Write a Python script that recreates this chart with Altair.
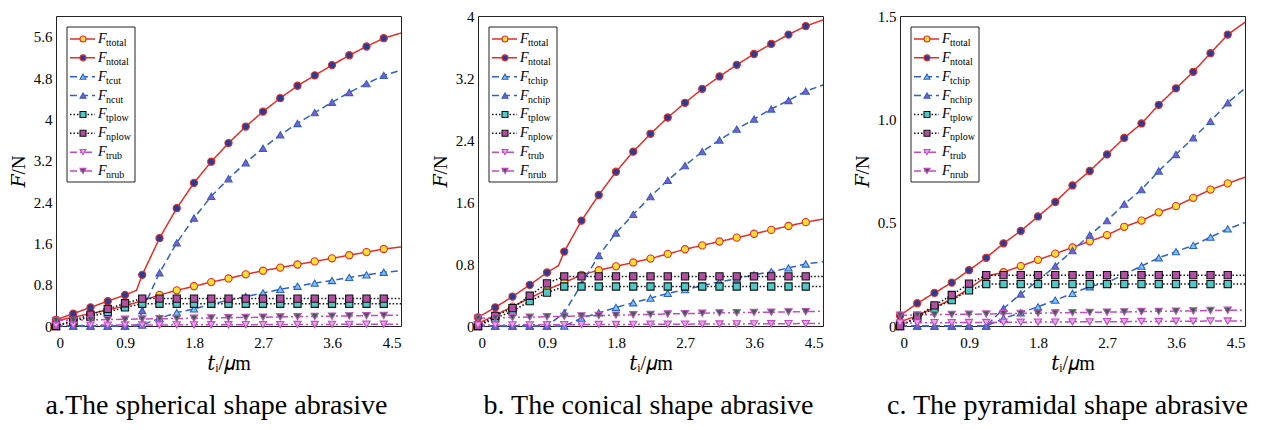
import altair as alt
import pandas as pd

# ---------------- data ----------------
X_MARK = [0.0, 0.225, 0.45, 0.675, 0.9, 1.125, 1.35, 1.575, 1.8, 2.025,
          2.25, 2.475, 2.7, 2.925, 3.15, 3.375, 3.6, 3.825, 4.05, 4.275]
X_END = 4.5
SERIES = ["ttotal", "ntotal", "tcut", "ncut", "tplow", "nplow", "trub", "nrub"]

# a. spherical
A_TTOTAL = [0.10, 0.17, 0.24, 0.31, 0.39, 0.49, 0.60, 0.69, 0.77, 0.85, 0.92, 1.00, 1.07, 1.13, 1.19, 1.25, 1.31, 1.37, 1.43, 1.49]
A_NTOTAL = [0.12, 0.24, 0.36, 0.48, 0.60, 0.99, 1.70, 2.28, 2.77, 3.18, 3.54, 3.86, 4.15, 4.41, 4.65, 4.85, 5.05, 5.24, 5.41, 5.57]
A_TCUT = [0, 0, 0, 0, 0, 0.02, 0.15, 0.26, 0.33, 0.42, 0.50, 0.57, 0.64, 0.71, 0.77, 0.83, 0.88, 0.94, 0.99, 1.04]
A_NCUT = [0, 0, 0, 0, 0, 0.30, 1.03, 1.61, 2.09, 2.51, 2.85, 3.16, 3.44, 3.70, 3.92, 4.13, 4.33, 4.52, 4.69, 4.85]
A_TPLOW = [0, 0.09, 0.18, 0.27, 0.36, 0.43, 0.43, 0.43, 0.43, 0.43, 0.43, 0.43, 0.43, 0.43, 0.43, 0.43, 0.43, 0.43, 0.43, 0.43]
A_NPLOW = [0, 0.11, 0.22, 0.33, 0.44, 0.53, 0.53, 0.53, 0.53, 0.53, 0.53, 0.53, 0.53, 0.53, 0.53, 0.53, 0.53, 0.53, 0.53, 0.53]
A_TRUB = [0.015, 0.016, 0.017, 0.018, 0.019, 0.020, 0.021, 0.022, 0.023, 0.024, 0.025, 0.026, 0.027, 0.028, 0.029, 0.030, 0.031, 0.032, 0.033, 0.034]
A_NRUB = [0.11, 0.115, 0.12, 0.125, 0.13, 0.135, 0.14, 0.145, 0.15, 0.155, 0.16, 0.165, 0.17, 0.175, 0.18, 0.185, 0.19, 0.195, 0.20, 0.205]
A_END = [1.53, 5.67, 1.07, 4.95, 0.43, 0.53, 0.035, 0.21]
A_KINK_KEY = ["ntotal", "ncut"]
A_KINK_X = [1.05, 1.06]
A_KINK_Y = [0.69, 0.0]

# b. conical
B_TTOTAL = [0.03, 0.14, 0.25, 0.36, 0.47, 0.56, 0.66, 0.72, 0.77, 0.82, 0.87, 0.93, 0.99, 1.04, 1.09, 1.14, 1.19, 1.24, 1.29, 1.34]
B_NTOTAL = [0.11, 0.24, 0.38, 0.53, 0.69, 0.96, 1.36, 1.69, 1.99, 2.25, 2.48, 2.69, 2.88, 3.06, 3.22, 3.37, 3.51, 3.64, 3.76, 3.87]
B_TCHIP = [0, 0, 0, 0, 0, 0.0, 0.10, 0.17, 0.24, 0.30, 0.36, 0.42, 0.47, 0.52, 0.57, 0.61, 0.66, 0.70, 0.75, 0.80]
B_NCHIP = [0, 0, 0, 0, 0, 0.17, 0.54, 0.91, 1.20, 1.44, 1.67, 1.88, 2.07, 2.25, 2.40, 2.54, 2.67, 2.80, 2.91, 3.03]
B_TPLOW = [0, 0.10, 0.19, 0.32, 0.43, 0.51, 0.51, 0.51, 0.51, 0.51, 0.51, 0.51, 0.51, 0.51, 0.51, 0.51, 0.51, 0.51, 0.51, 0.51]
B_NPLOW = [0, 0.13, 0.23, 0.39, 0.55, 0.64, 0.64, 0.64, 0.64, 0.64, 0.64, 0.64, 0.64, 0.64, 0.64, 0.64, 0.64, 0.64, 0.64, 0.64]
B_TRUB = [0.012, 0.013, 0.014, 0.015, 0.016, 0.017, 0.018, 0.019, 0.020, 0.021, 0.022, 0.023, 0.024, 0.025, 0.026, 0.027, 0.028, 0.029, 0.030, 0.031]
B_NRUB = [0.10, 0.105, 0.11, 0.115, 0.12, 0.125, 0.13, 0.135, 0.14, 0.145, 0.15, 0.155, 0.16, 0.165, 0.17, 0.172, 0.175, 0.178, 0.182, 0.186]
B_END = [1.38, 3.95, 0.83, 3.11, 0.51, 0.64, 0.032, 0.19]
B_KINK_KEY = ["ntotal"]
B_KINK_X = [1.05]
B_KINK_Y = [0.78]

# c. pyramidal
C_TTOTAL = [0.02, 0.05, 0.09, 0.13, 0.18, 0.24, 0.26, 0.29, 0.32, 0.35, 0.38, 0.41, 0.44, 0.48, 0.51, 0.55, 0.58, 0.62, 0.66, 0.69]
C_NTOTAL = [0.05, 0.11, 0.16, 0.21, 0.27, 0.33, 0.40, 0.46, 0.53, 0.60, 0.68, 0.75, 0.83, 0.91, 0.98, 1.07, 1.15, 1.23, 1.32, 1.41]
C_TCHIP = [0, 0, 0, 0, 0, 0.0, 0.037, 0.064, 0.093, 0.125, 0.158, 0.19, 0.21, 0.25, 0.29, 0.33, 0.36, 0.39, 0.43, 0.47]
C_NCHIP = [0, 0, 0, 0, 0, 0.0, 0.085, 0.155, 0.22, 0.29, 0.365, 0.44, 0.51, 0.59, 0.66, 0.75, 0.83, 0.91, 0.99, 1.08]
C_TPLOW = [0, 0.04, 0.087, 0.125, 0.172, 0.203, 0.203, 0.203, 0.203, 0.203, 0.203, 0.203, 0.203, 0.203, 0.203, 0.203, 0.203, 0.203, 0.203, 0.203]
C_NPLOW = [0, 0.047, 0.10, 0.15, 0.205, 0.246, 0.246, 0.246, 0.246, 0.246, 0.246, 0.246, 0.246, 0.246, 0.246, 0.246, 0.246, 0.246, 0.246, 0.246]
C_TRUB = [0.015, 0.015, 0.016, 0.016, 0.017, 0.017, 0.018, 0.018, 0.019, 0.019, 0.020, 0.020, 0.021, 0.021, 0.022, 0.022, 0.023, 0.023, 0.024, 0.024]
C_NRUB = [0.052, 0.053, 0.055, 0.056, 0.057, 0.058, 0.060, 0.061, 0.062, 0.063, 0.065, 0.066, 0.067, 0.068, 0.070, 0.071, 0.072, 0.073, 0.075, 0.076]
C_END = [0.72, 1.47, 0.50, 1.15, 0.203, 0.246, 0.025, 0.077]
C_KINK_KEY = []
C_KINK_X = []
C_KINK_Y = []

SUBS_A = ["ttotal", "ntotal", "tcut", "ncut", "tplow", "nplow", "trub", "nrub"]
SUBS_BC = ["ttotal", "ntotal", "tchip", "nchip", "tplow", "nplow", "trub", "nrub"]

CAPTIONS = ["a.The spherical shape abrasive",
            "b. The conical shape abrasive",
            "c. The pyramidal shape abrasive"]
Y_MAX = [6.0, 4.0, 1.5]
Y_TICKS = [[0, 0.8, 1.6, 2.4, 3.2, 4.0, 4.8, 5.6],
           [0, 0.8, 1.6, 2.4, 3.2, 4.0],
           [0, 0.5, 1.0, 1.5]]
X_TICKS = [0, 0.9, 1.8, 2.7, 3.6, 4.5]

# ---------------- styling ----------------
RED = "#e52d27"
BLUE = "#2f60c8"
BLACK = "#111111"
MAG = "#c54ac5"
STROKES = [RED, RED, BLUE, BLUE, BLACK, BLACK, MAG, MAG]
FILLS = ["#ffe033", "#2b3c96", "#78c6f0", "#8a5ac6", "#50c8c8", "#b24ea4", "#e4a8e4", "#2e6b3c"]
SHAPES = ["circle", "circle", "triangle-up", "triangle-up", "square", "square",
          "triangle-down", "triangle-down"]
SIZES = [52, 52, 55, 55, 64, 64, 55, 55]
DASHES = [[1, 0], [1, 0], [7, 4], [7, 4], [1.5, 2], [1.5, 2], [7, 3, 2, 3], [7, 3, 2, 3]]

stroke_scale = alt.Scale(domain=SERIES, range=STROKES)
fill_scale = alt.Scale(domain=SERIES, range=FILLS)
shape_scale = alt.Scale(domain=SERIES, range=SHAPES)
size_scale = alt.Scale(domain=SERIES, range=SIZES)
dash_scale = alt.Scale(domain=SERIES, range=DASHES)

SERIF = "Liberation Serif"
TFONT = "Liberation Serif, DejaVu Serif, serif"


def build_df(series_vals, ends, kk, kx, ky):
    rows = []
    for key, vals, end in zip(SERIES, series_vals, ends):
        for x, y in zip(X_MARK, vals):
            rows.append({"key": key, "x": x, "y": y, "m": 1})
        rows.append({"key": key, "x": X_END, "y": end, "m": 0})
    for key, x, y in zip(kk, kx, ky):
        rows.append({"key": key, "x": x, "y": y, "m": 0})
    return pd.DataFrame(rows)


PANELS = [
    build_df([A_TTOTAL, A_NTOTAL, A_TCUT, A_NCUT, A_TPLOW, A_NPLOW, A_TRUB, A_NRUB],
             A_END, A_KINK_KEY, A_KINK_X, A_KINK_Y),
    build_df([B_TTOTAL, B_NTOTAL, B_TCHIP, B_NCHIP, B_TPLOW, B_NPLOW, B_TRUB, B_NRUB],
             B_END, B_KINK_KEY, B_KINK_X, B_KINK_Y),
    build_df([C_TTOTAL, C_NTOTAL, C_TCHIP, C_NCHIP, C_TPLOW, C_NPLOW, C_TRUB, C_NRUB],
             C_END, C_KINK_KEY, C_KINK_X, C_KINK_Y),
]
SUBS = [SUBS_A, SUBS_BC, SUBS_BC]
CAP_DX = [-12, -2, -5]

W, H = 345, 310


def panel(i):
    df = PANELS[i]
    ymax = Y_MAX[i]
    if i == 2:
        ylab = "datum.value == 0 ? '0' : format(datum.value, '.1f')"
    else:
        ylab = "format(datum.value, '~g')"
    xenc = alt.X("x:Q", scale=alt.Scale(domain=[0, 4.5], nice=False),
                 axis=alt.Axis(values=X_TICKS, labelExpr="format(datum.value, '~g')",
                               title="𝑡ᵢ/𝜇m", labelFont=SERIF, titleFont=TFONT,
                               labelFontSize=15, titleFontSize=20, labelPadding=9,
                               titlePadding=3, grid=False, ticks=False, domain=False,
                               labelColor="black", titleColor="black",
                               titleFontWeight="normal"))
    yenc = alt.Y("y:Q", scale=alt.Scale(domain=[0, ymax], nice=False),
                 axis=alt.Axis(values=Y_TICKS[i], labelExpr=ylab, title="𝐹/N",
                               labelFont=SERIF, titleFont=TFONT,
                               labelFontSize=15, titleFontSize=19, labelPadding=4,
                               titlePadding=5, grid=False, ticks=False, domain=False,
                               labelColor="black", titleColor="black",
                               titleFontWeight="normal"))
    base = alt.Chart(df)
    lines = base.mark_line(strokeWidth=1.5, clip=False).encode(
        x=xenc, y=yenc,
        stroke=alt.Stroke("key:N", scale=stroke_scale, legend=None),
        strokeDash=alt.StrokeDash("key:N", scale=dash_scale, legend=None),
        detail="key:N",
    )
    pts = base.transform_filter(alt.datum.m == 1).mark_point(
        filled=True, strokeWidth=1.1, opacity=1, fillOpacity=1
    ).encode(
        x=xenc, y=yenc,
        shape=alt.Shape("key:N", scale=shape_scale, legend=None),
        size=alt.Size("key:N", scale=size_scale, legend=None),
        fill=alt.Fill("key:N", scale=fill_scale, legend=None),
        stroke=alt.Stroke("key:N", scale=stroke_scale, legend=None),
    )
    data_layer = alt.layer(lines, pts)

    leg_df = pd.DataFrame({"key": SERIES, "row": list(range(8)), "sub": SUBS[i], "F": ["F"] * 8})
    leg = alt.Chart(leg_df)
    ly = alt.Y("row:O", scale=alt.Scale(type="point", domain=list(range(8)),
                                        range=[23, 155], padding=0), axis=None)
    frame = alt.Chart(pd.DataFrame({"a": [0]})).mark_rect(
        fill="white", stroke="#222222", strokeWidth=1
    ).encode(x=alt.value(11), x2=alt.value(79), y=alt.value(11), y2=alt.value(166))
    lrule = leg.mark_rule(strokeWidth=1.5).encode(
        x=alt.value(14), x2=alt.value(39), y=ly,
        stroke=alt.Stroke("key:N", scale=stroke_scale, legend=None),
        strokeDash=alt.StrokeDash("key:N", scale=dash_scale, legend=None),
    )
    lpt = leg.mark_point(filled=True, size=36, strokeWidth=1.1, opacity=1, fillOpacity=1).encode(
        x=alt.value(27), y=ly,
        shape=alt.Shape("key:N", scale=shape_scale, legend=None),
        fill=alt.Fill("key:N", scale=fill_scale, legend=None),
        stroke=alt.Stroke("key:N", scale=stroke_scale, legend=None),
    )
    lf = leg.mark_text(align="left", baseline="middle", font=SERIF, fontStyle="italic",
                       fontSize=14, color="black").encode(x=alt.value(42), y=ly, text="F:N")
    ls = leg.mark_text(align="left", baseline="middle", font=SERIF, fontSize=10,
                       dy=4, color="black").encode(x=alt.value(50), y=ly, text="sub:N")
    legend_layer = alt.layer(frame, lrule, lpt, lf, ls)

    return alt.layer(data_layer, legend_layer).resolve_scale(y="independent").properties(
        width=W, height=H,
        title=alt.TitleParams(CAPTIONS[i], orient="bottom", anchor="middle", font=SERIF,
                              fontSize=28, fontWeight="normal", color="black",
                              offset=19, dx=CAP_DX[i]),
    )


chart = alt.hconcat(panel(0), panel(1), panel(2), spacing=77, bounds="flush").properties(
    padding={"left": 0, "top": 0, "right": 0, "bottom": 0}
).configure_view(stroke="#222222", strokeWidth=1).configure_axis(
    grid=False, domain=False, ticks=False,
    labelFont=SERIF, labelFontSize=15, labelColor="black",
    titleFont=SERIF, titleFontSize=19, titleFontWeight="normal", titleColor="black",
).configure_text(font=SERIF)

chart.save("out.html", embed_options={"renderer": "svg", "actions": False})
